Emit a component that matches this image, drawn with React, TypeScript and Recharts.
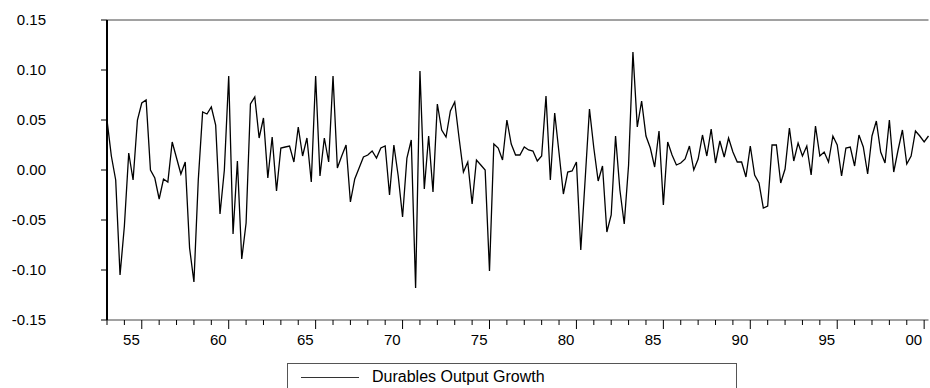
import React from "react";
import { LineChart, Line, XAxis, YAxis, ReferenceLine } from "recharts";

// Quarterly durables output growth, 1953Q1 – 2000Q2
const startYear = 1953;
const growth: number[] = [
  0.05, 0.014, -0.01, -0.105, -0.056, 0.017, -0.01, 0.05, 0.067, 0.07,
  0.0, -0.008, -0.029, -0.009, -0.012, 0.028, 0.012, -0.004, 0.008, -0.078,
  -0.112, -0.01, 0.058, 0.056, 0.063, 0.045, -0.044, 0.0, 0.094, -0.064,
  0.009, -0.089, -0.053, 0.066, 0.073, 0.032, 0.052, -0.008, 0.033, -0.021,
  0.022, 0.023, 0.024, 0.008, 0.043, 0.014, 0.032, -0.012, 0.094, -0.006,
  0.032, 0.008, 0.094, 0.002, 0.014, 0.025, -0.032, -0.009, 0.002, 0.013,
  0.015, 0.019, 0.012, 0.022, 0.024, -0.025, 0.025, -0.006, -0.047, 0.012,
  0.03, -0.118, 0.099, -0.019, 0.034, -0.022, 0.066, 0.04, 0.033, 0.059,
  0.068, 0.032, -0.002, 0.008, -0.034, 0.01, 0.005, 0.0, -0.101, 0.026,
  0.022, 0.01, 0.05, 0.026, 0.015, 0.015, 0.023, 0.02, 0.019, 0.009,
  0.014, 0.074, -0.01, 0.057, 0.017, -0.024, -0.002, -0.001, 0.008, -0.08,
  -0.01, 0.061, 0.022, -0.011, 0.004, -0.062, -0.045, 0.034, -0.02, -0.054,
  0.005, 0.118, 0.043, 0.069, 0.034, 0.022, 0.003, 0.039, -0.035, 0.028,
  0.015, 0.005, 0.007, 0.011, 0.024, 0.0, 0.011, 0.035, 0.014, 0.041,
  0.007, 0.029, 0.013, 0.032, 0.018, 0.008, 0.008, -0.007, 0.024, -0.005,
  -0.013, -0.038, -0.036, 0.025, 0.025, -0.013, 0.001, 0.042, 0.009, 0.027,
  0.014, 0.024, -0.005, 0.044, 0.014, 0.018, 0.008, 0.034, 0.025, -0.006,
  0.022, 0.023, 0.004, 0.035, 0.023, -0.004, 0.034, 0.049, 0.018, 0.007,
  0.05, -0.002, 0.02, 0.04, 0.006, 0.014, 0.039, 0.034, 0.028, 0.034,
];
const yearLabels = ["55", "60", "65", "70", "75", "80", "85", "90", "95", "00"];
const labelYears = [1955, 1960, 1965, 1970, 1975, 1980, 1985, 1990, 1995, 2000];
const yTicks = [-0.15, -0.1, -0.05, 0, 0.05, 0.1, 0.15];
const seriesName = "Durables Output Growth";

const data = growth.map((v, i) => ({ q: i, value: v }));
const lastQ = growth.length - 1;
const yearTicks: number[] = [];
for (let q = 0; q <= lastQ; q += 4) yearTicks.push(q);

const FONT = "'Liberation Sans', Arial, Helvetica, sans-serif";

const XTick = (props: any) => {
  const { x, y, payload } = props;
  const year = startYear + Math.round(payload.value / 4);
  const idx = labelYears.indexOf(year);
  const major = idx >= 0;
  return (
    <g>
      <line x1={x} x2={x} y1={y} y2={y + (major ? 9 : 5)} stroke="#000" strokeWidth={1} />
      {major && (
        <text x={x - 2} y={y + 25} textAnchor="end" fontSize={15} fontFamily={FONT} fill="#000">
          {yearLabels[idx]}
        </text>
      )}
    </g>
  );
};

const YTick = (props: any) => {
  const { x, y, payload } = props;
  return (
    <g>
      <line x1={x - 6} x2={x} y1={y} y2={y} stroke="#000" strokeWidth={1} />
      <text x={x - 61} y={y} dy={5} textAnchor="end" fontSize={15} fontFamily={FONT} fill="#000">
        {payload.value.toFixed(2)}
      </text>
    </g>
  );
};

export default function App() {
  return (
    <div style={{ position: "absolute", left: 0, top: 0, width: 930, height: 388, overflow: "hidden", background: "#fff" }}>
      <LineChart width={930} height={388} data={data} margin={{ top: 20, right: 1.5, bottom: 38, left: 0 }}>
        <XAxis
          dataKey="q"
          type="number"
          domain={[0, lastQ]}
          ticks={yearTicks}
          interval={0}
          tickSize={0}
          tickMargin={0}
          tickLine={false}
          tick={<XTick />}
          height={30}
          axisLine={{ stroke: "#444", strokeWidth: 1 }}
        />
        <YAxis
          type="number"
          domain={[-0.15, 0.15]}
          ticks={yTicks}
          interval={0}
          tickSize={0}
          tickMargin={0}
          tickLine={false}
          tick={<YTick />}
          width={107}
          axisLine={{ stroke: "#000", strokeWidth: 2 }}
        />
        <ReferenceLine y={0.15} stroke="#444" strokeWidth={1} />
        <Line
          type="linear"
          dataKey="value"
          name={seriesName}
          stroke="#000"
          strokeWidth={1.3}
          dot={false}
          isAnimationActive={false}
        />
      </LineChart>
      <div
        style={{
          position: "absolute",
          left: 287,
          top: 363,
          width: 450,
          height: 40,
          border: "1px solid #555",
          boxSizing: "border-box",
          fontFamily: FONT,
          fontSize: 16,
        }}
      >
        <div style={{ position: "absolute", left: 13, top: 13, width: 58, height: 0, borderTop: "1px solid #333" }} />
        <div style={{ position: "absolute", left: 84, top: 4, lineHeight: "18px", whiteSpace: "nowrap", color: "#000" }}>
          {seriesName}
        </div>
      </div>
    </div>
  );
}
